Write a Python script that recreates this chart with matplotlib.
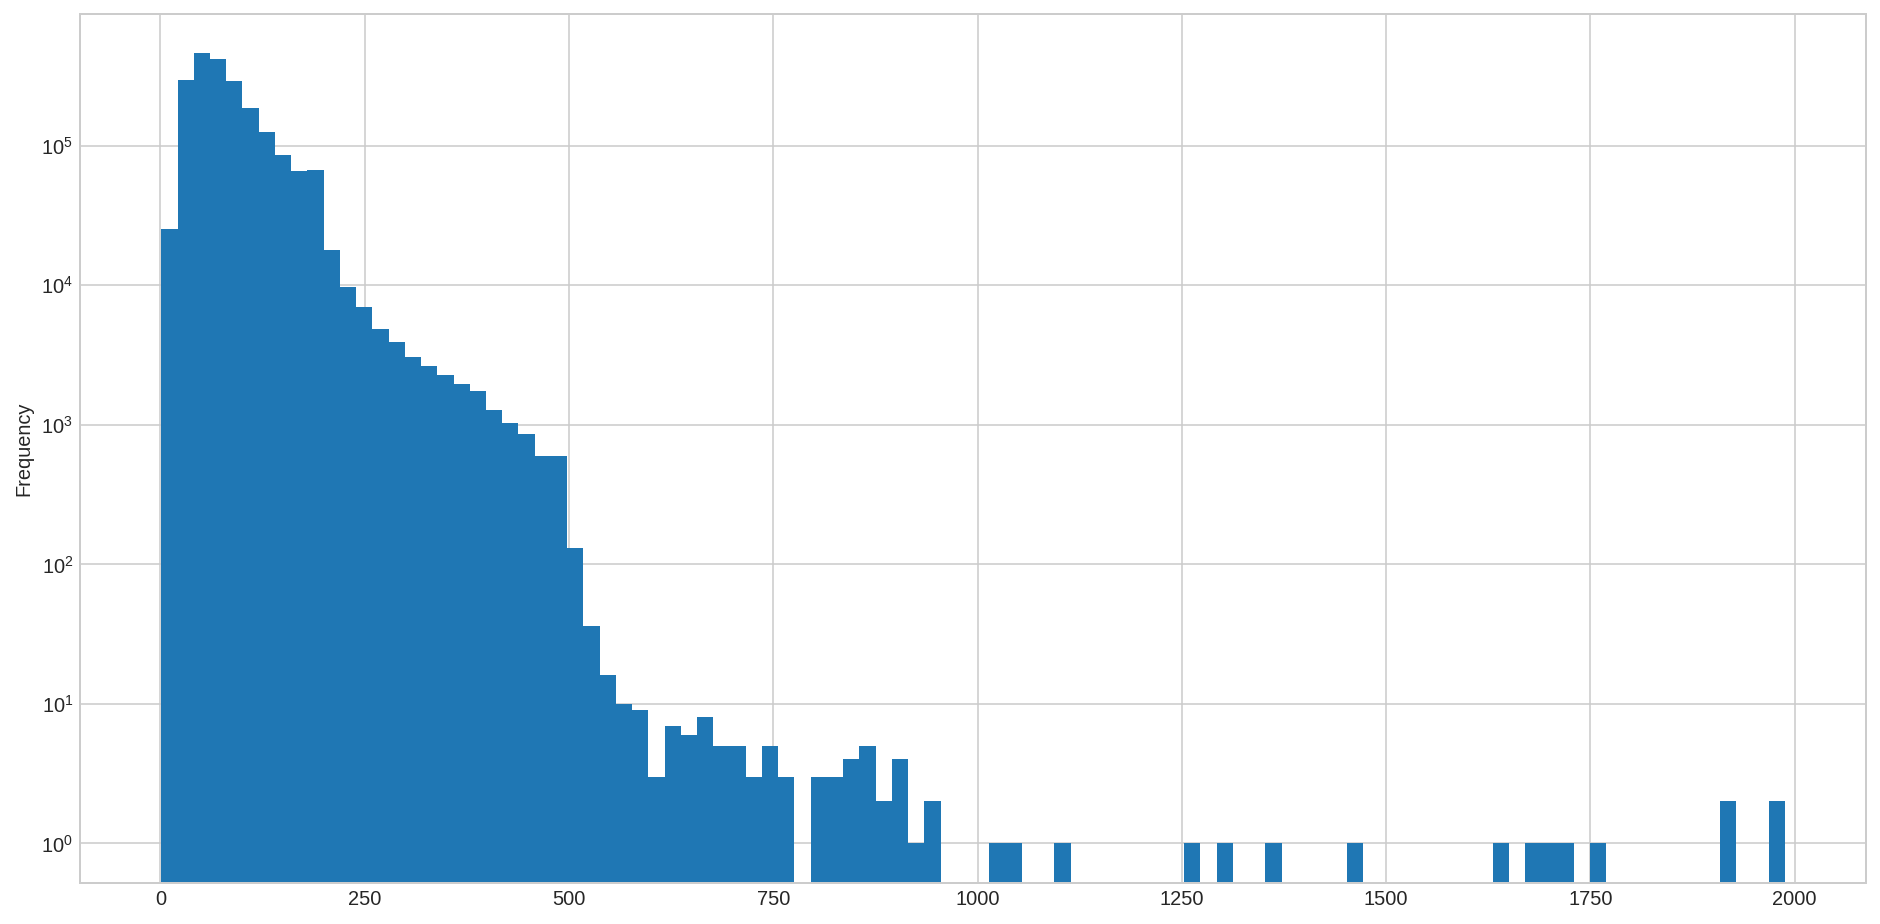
import numpy as np
import matplotlib
matplotlib.use("Agg")
import matplotlib.pyplot as plt

# range of the values and number of bins (pandas-style hist, 100 bins)
value_min = 1.0
value_max = 1988.0
n_bins = 100

# counts per bin
bin_counts = [
    25400, 294000, 459000, 416000, 291000, 186000, 125000, 86000, 66000, 67000,
    18000, 9640, 6930, 4890, 3945, 3080, 2660, 2290, 1975, 1757,
    1285, 1038, 865, 601, 601, 131, 36, 16, 10, 9,
    3, 7, 6, 8, 5, 5, 3, 5, 3, 0,
    3, 3, 4, 5, 2, 4, 1, 2, 0, 0,
    0, 1, 1, 0, 0, 1, 0, 0, 0, 0,
    0, 0, 0, 1, 0, 1, 0, 0, 1, 0,
    0, 0, 0, 1, 0, 0, 0, 0, 0, 0,
    0, 0, 1, 0, 1, 1, 1, 0, 1, 0,
    0, 0, 0, 0, 0, 0, 2, 0, 0, 2,
]

plt.style.use("seaborn-v0_8-whitegrid")

bin_edges = np.linspace(value_min, value_max, n_bins + 1)
bin_centers = (bin_edges[:-1] + bin_edges[1:]) / 2

dpi = 144
fig, ax = plt.subplots(figsize=(1880 / dpi, 924 / dpi), dpi=dpi)
ax.hist(bin_centers, bins=bin_edges, weights=bin_counts, log=True, color="#1f77b4")
ax.set_ylabel("Frequency")

fig.subplots_adjust(left=0.0426, right=0.9926, top=0.985, bottom=0.0444)
fig.savefig("out.png", dpi=dpi)
